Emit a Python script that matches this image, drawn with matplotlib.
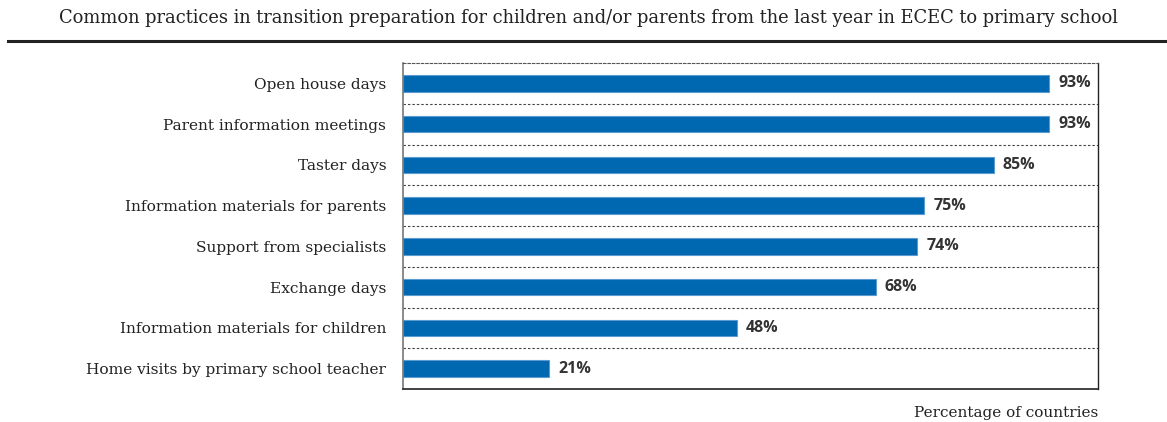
import matplotlib
matplotlib.use("Agg")
import matplotlib.pyplot as plt

categories = [
    "Open house days",
    "Parent information meetings",
    "Taster days",
    "Information materials for parents",
    "Support from specialists",
    "Exchange days",
    "Information materials for children",
    "Home visits by primary school teacher",
]
values = [93, 93, 85, 75, 74, 68, 48, 21]
value_labels = ["93%", "93%", "85%", "75%", "74%", "68%", "48%", "21%"]

title = ("Common practices in transition preparation for children and/or parents "
         "from the last year in ECEC to primary school")
xlabel = "Percentage of countries"

W, H, DPI = 1167, 422, 100
fig = plt.figure(figsize=(W / DPI, H / DPI), dpi=DPI)

# axes box in pixel coordinates
left, right, top, bottom = 403, 1098, 63, 389
ax = fig.add_axes([left / W, 1 - bottom / H, (right - left) / W, (bottom - top) / H])

bar_color = "#0067b1"
n = len(categories)
ypos = list(range(n))
ax.barh(ypos, values, height=0.4, color=bar_color, edgecolor="#5b9bd0", linewidth=0.8)
ax.set_xlim(0, 100)
ax.set_ylim(n - 0.5, -0.5)

# dashed separators between rows
for b in range(1, n):
    ax.axhline(b - 0.5, color="#444444", linestyle=(0, (2.2, 1.8)), linewidth=0.8)

ax.set_yticks(ypos)
ax.set_yticklabels(categories, fontsize=11.1, family="DejaVu Serif", color="#222222")
ax.tick_params(axis="y", length=0, pad=12)
ax.set_xticks([])

for y, v, lab in zip(ypos, values, value_labels):
    ax.annotate(lab, (v, y), xytext=(6.5, 0), textcoords="offset points",
                ha="left", va="center", fontsize=11.5, fontweight="bold",
                family="Open Sans", color="#333333")

ax.spines["top"].set_color("#555555")
ax.spines["top"].set_linestyle((0, (2.2, 1.8)))
ax.spines["top"].set_linewidth(0.8)
ax.spines["left"].set_color("#777777")
ax.spines["left"].set_linewidth(1.2)
ax.spines["right"].set_color("#222222")
ax.spines["right"].set_linewidth(1.0)
ax.spines["bottom"].set_color("#222222")
ax.spines["bottom"].set_linewidth(1.2)

fig.text(588 / W, 1 - 18 / H, title, ha="center", va="center",
         fontsize=12.9, family="DejaVu Serif", color="#222222")
fig.add_artist(plt.Line2D([8 / W, 1.0], [1 - 41 / H, 1 - 41 / H],
                          transform=fig.transFigure, color="#222222", linewidth=2.2))
fig.text(right / W, 1 - 413 / H, xlabel, ha="right", va="center",
         fontsize=11, family="DejaVu Serif", color="#222222")

fig.savefig("out.png", dpi=DPI)
